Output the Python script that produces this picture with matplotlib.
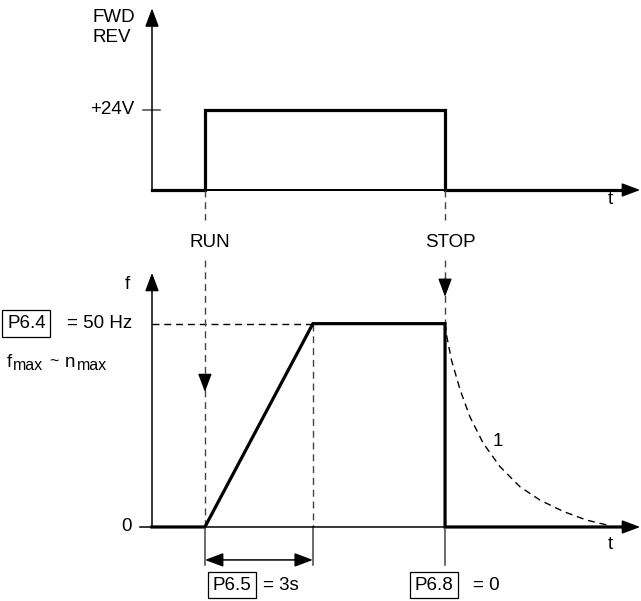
import matplotlib.pyplot as plt

plt.rcParams['font.family'] = ['Liberation Sans', 'DejaVu Sans']

# timing (s)
t_run = 1.47
ramp_time = 3.0
t_ramp_end = t_run + ramp_time
t_stop = 8.14
t_end = 13.56

# control signal (V)
v_high = 24
sig_t = [0, t_run, t_run, t_stop, t_stop, t_end - 0.4]
sig_v = [0, 0, v_high, v_high, 0, 0]

# output frequency (Hz)
f_max = 50
freq_t = [0, t_run, t_ramp_end, t_stop, t_stop, t_end - 0.4]
freq_f = [0, 0, f_max, f_max, 0, 0]

# coasting curve (1)
coast_t = [8.14, 8.19, 8.32, 8.56, 8.83, 9.2, 9.67, 10.22, 10.78, 11.43, 12.07, 12.63]
coast_f = [50, 46.8, 41, 33.7, 27.1, 20.6, 14.8, 9.9, 6.6, 3.8, 1.7, 0.5]

fig = plt.figure(figsize=(6.41, 6.01), dpi=100)
ax1 = fig.add_axes([0, 341 / 601, 1, 260 / 601])
ax2 = fig.add_axes([0, 0, 1, 341 / 601])
xlim = (-4.222, 13.583)
ax1.set_xlim(xlim)
ax1.set_ylim(-21, 57)
ax2.set_xlim(xlim)
ax2.set_ylim(-18.2, 65.65)
for a in (ax1, ax2):
    a.axis('off')

thin = 1.1
thick = 2.3
fs = 13.5
fs_sub = 11.5
dash = (0, (5, 3.5))
head = '-|>,head_length=0.8,head_width=0.3'


def arrow(ax, start, tip, lw=thin):
    ax.annotate('', xy=tip, xytext=start,
                arrowprops=dict(arrowstyle=head, mutation_scale=14, lw=lw,
                                color='black', shrinkA=0, shrinkB=0))


# ---- top: FWD/REV signal ----
arrow(ax1, (0, 0), (0, 54.5))
arrow(ax1, (0, 0), (t_end, 0))
ax1.plot([-0.25, 0.22], [v_high, v_high], color='#444444', lw=thin)
ax1.plot(sig_t, sig_v, color='black', lw=thick, solid_joinstyle='miter')
ax1.plot([t_run, t_stop], [0, 0], color='black', lw=thin + 0.3)
ax1.text(-1.64, 51.9, 'FWD', fontsize=fs, va='center', ha='left')
ax1.text(-1.64, 45.6, 'REV', fontsize=fs, va='center', ha='left')
ax1.text(-0.5, v_high, '+24V', fontsize=fs, va='center', ha='right')
ax1.text(12.72, -3, 't', fontsize=fs, va='center', ha='center')
for tt in (t_run, t_stop):
    ax1.plot([tt, tt], [0, -9], color='#444444', lw=1, ls=dash, clip_on=False)
ax1.text(1.61, -15.9, 'RUN', fontsize=fs, va='center', ha='center')
ax1.text(8.28, -15.9, 'STOP', fontsize=fs, va='center', ha='center')

# ---- bottom: frequency ----
arrow(ax2, (0, 0), (0, 62.5))
arrow(ax2, (0, 0), (t_end, 0))
ax2.plot([-0.33, 0], [0, 0], color='black', lw=thin)
ax2.plot([0, t_ramp_end], [f_max, f_max], color='black', lw=1, ls=dash)
ax2.plot([t_ramp_end, t_ramp_end], [f_max, 0], color='#444444', lw=1, ls=dash)
ax2.plot([t_run, t_run], [65.65, 0], color='#444444', lw=1, ls=dash)
ax2.plot([t_stop, t_stop], [65.65, f_max], color='#444444', lw=1, ls=dash)
arrow(ax2, (t_run, 37.5), (t_run, 33.2), lw=1)
arrow(ax2, (t_stop, 61), (t_stop, 56.6), lw=1)
ax2.plot(coast_t, coast_f, color='black', lw=1, ls=dash)
ax2.plot(freq_t, freq_f, color='black', lw=thick, solid_joinstyle='miter')

for tt in (t_run, t_ramp_end, t_stop):
    ax2.plot([tt, tt], [0, -9.3], color='#444444', lw=thin)
ax2.annotate('', xy=(t_ramp_end, -8.1), xytext=(t_run, -8.1),
             arrowprops=dict(arrowstyle='<|-|>,head_length=0.8,head_width=0.3',
                             mutation_scale=14, lw=thin, color='black',
                             shrinkA=0, shrinkB=0))

box = dict(boxstyle='square,pad=0.25', fc='white', ec='black', lw=0.9)
ax2.text(-0.69, 59.7, 'f', fontsize=fs, va='center', ha='center')
ax2.text(-3.49, f_max, 'P6.4', fontsize=fs, va='center', ha='center', bbox=box)
ax2.text(-2.36, f_max, '= 50 Hz', fontsize=fs, va='center', ha='left')
# f_max ~ n_max with larger subscripts than mathtext gives
ax2.text(-4.03, 39.3, 'f', fontsize=fs, va='baseline', ha='left')
ax2.text(-3.86, 38.6, 'max', fontsize=fs_sub, va='baseline', ha='left')
ax2.text(-2.86, 39.3, '~', fontsize=fs_sub, va='baseline', ha='left')
ax2.text(-2.42, 39.3, 'n', fontsize=fs, va='baseline', ha='left')
ax2.text(-2.08, 38.6, 'max', fontsize=fs_sub, va='baseline', ha='left')
ax2.text(-0.72, 0, '0', fontsize=fs, va='center', ha='center')
ax2.text(12.72, -4.4, 't', fontsize=fs, va='center', ha='center')
ax2.text(9.61, 20.9, '1', fontsize=fs, va='center', ha='center')
ax2.text(2.22, -14.3, 'P6.5', fontsize=fs, va='center', ha='center', bbox=box)
ax2.text(3.08, -14.3, '= 3s', fontsize=fs, va='center', ha='left')
ax2.text(7.83, -14.3, 'P6.8', fontsize=fs, va='center', ha='center', bbox=box)
ax2.text(8.92, -14.3, '= 0', fontsize=fs, va='center', ha='left')

fig.savefig('out.png', dpi=100, facecolor='white')
